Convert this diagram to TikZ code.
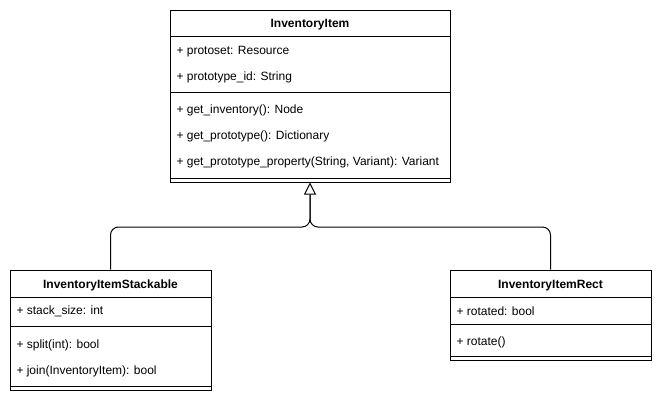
\documentclass[tikz,border=0pt]{standalone}
\usepackage{fontspec}
\setmainfont{Liberation Sans}
\usetikzlibrary{fit,arrows.meta}
\begin{document}
\begin{tikzpicture}[x=0.75pt,y=-0.75pt,line width=0.75pt,
  box/.style={draw,inner sep=0pt,fit={#1}},
  txt/.style={anchor=west,inner sep=0pt,yshift=-1.1pt,font=\fontsize{9pt}{11pt}\selectfont},
  ttl/.style={anchor=center,inner sep=0pt,yshift=-1.1pt,font=\fontsize{9pt}{11pt}\selectfont\bfseries},
  conn/.style={draw,rounded corners=6pt}]
\useasboundingbox[fill=white] (0,0) rectangle (661,401);
% InventoryItem
\node[box={(170,10)(450,182)}] (item) {};
\draw (170,36) -- (450,36) (170,92) -- (450,92) (170,178) -- (450,178);
\node[ttl] (itemT) at (310,23) {InventoryItem};
\node[txt] (a1) at (176,50) {+ protoset: Resource};
\node[txt] (a2) at (176,76) {+ prototype\_id: String};
\node[txt] (m1) at (176,109) {+ get\_inventory(): Node};
\node[txt] (m2) at (176,135) {+ get\_prototype(): Dictionary};
\node[txt] (m3) at (176,161) {+ get\_prototype\_property(String, Variant): Variant};
% InventoryItemStackable
\node[box={(10,270)(211,390)}] (stack) {};
\draw (10,297) -- (211,297) (10,326) -- (211,326) (10,386) -- (211,386);
\node[ttl] (stackT) at (110.5,284) {InventoryItemStackable};
\node[txt] (s1) at (16,310) {+ stack\_size: int};
\node[txt] (s2) at (16,344) {+ split(int): bool};
\node[txt] (s3) at (16,370) {+ join(InventoryItem): bool};
% InventoryItemRect
\node[box={(450,270)(651,360)}] (rect) {};
\draw (450,297) -- (651,297) (450,324) -- (651,324) (450,356) -- (651,356);
\node[ttl] (rectT) at (550.5,284) {InventoryItemRect};
\node[txt] (r1) at (456,310) {+ rotated: bool};
\node[txt] (r2) at (456,341) {+ rotate()};
% connectors
\coordinate (j) at (310,227);
\draw[conn,shorten >=9.5pt] (stack.north) |- (j) -- (item.south);
\draw[conn,-{Triangle[open,length=9pt,width=9pt]}] (rect.north) |- (j) -- (item.south);
\end{tikzpicture}
\end{document}
